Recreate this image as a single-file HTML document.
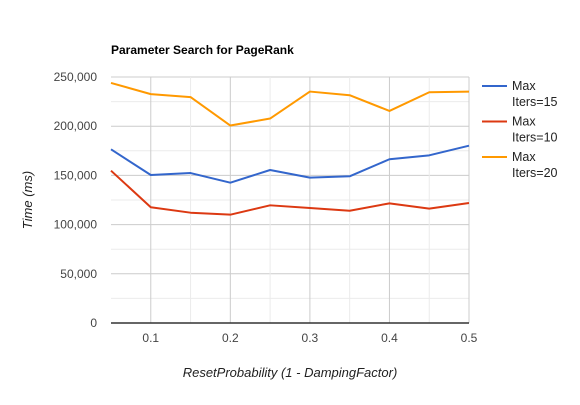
<!DOCTYPE html>
<html><head><meta charset="utf-8"><style>
body{margin:0;background:#fff}
svg text{font-family:"Liberation Sans",Arial,sans-serif}
</style></head><body>
<svg id="chart" width="580" height="400" xmlns="http://www.w3.org/2000/svg">
<rect width="580" height="400" fill="#fff"/>
<text x="111" y="54" font-size="12" font-weight="bold" fill="#000">Parameter Search for PageRank</text>
<g id="grid"></g>
<g id="ylabels"></g>
<g id="xlabels"></g>
<g id="series"></g>
<line x1="111" x2="469" y1="323" y2="323" stroke="#333" stroke-width="1.5"/>
<text transform="translate(32,200) rotate(-90)" text-anchor="middle" font-size="13" font-style="italic" fill="#222">Time (ms)</text>
<text x="290" y="377" text-anchor="middle" font-size="13" font-style="italic" fill="#222">ResetProbability (1 - DampingFactor)</text>
<g id="legend"></g>
</svg>
<script>
const xValues=[0.05,0.1,0.15,0.2,0.25,0.3,0.35,0.4,0.45,0.5];
const iters15=[176500,150400,152400,142600,155500,147700,149100,166400,170400,180200];
const iters10=[154800,117600,112100,110100,119600,116900,114100,121600,116200,122000];
const iters20=[244000,232600,229600,200700,207800,235200,231500,215500,234500,235200];
const yTicks=[0,50000,100000,150000,200000,250000];
const yTickLabels=["0","50,000","100,000","150,000","200,000","250,000"];
const xTicks=[0.1,0.2,0.3,0.4,0.5];
const xTickLabels=["0.1","0.2","0.3","0.4","0.5"];
const seriesNames=["Max Iters=15","Max Iters=10","Max Iters=20"];
const NS="http://www.w3.org/2000/svg";
const X0=111,X1=469,Y0=323,Y1=77;
const xs=v=>X0+(v-0.05)/(0.5-0.05)*(X1-X0);
const ys=v=>Y0-v/250000*(Y0-Y1);
function mk(tag,attrs,parent){const e=document.createElementNS(NS,tag);for(const k in attrs)e.setAttribute(k,attrs[k]);parent.appendChild(e);return e;}
const grid=document.getElementById('grid');
for(let v=0;v<=250000;v+=25000){
  const major=v%50000===0;
  const l=mk('line',{x1:X0,x2:X1,y1:ys(v),y2:ys(v),stroke:major?'#ccc':'#ebebeb','stroke-width':1},grid);
  
  
}
for(let i=1;i<=9;i++){
  const v=0.05+i*0.05;const major=i%2===1;
  const l=mk('line',{x1:xs(v),x2:xs(v),y1:Y1,y2:Y0,stroke:major?'#ccc':'#ebebeb','stroke-width':1},grid);
  
  
}
const yl=document.getElementById('ylabels');
yTicks.forEach((v,i)=>{const t=mk('text',{x:97,y:ys(v)+4,'text-anchor':'end','font-size':12,fill:'#444'},yl);t.textContent=yTickLabels[i];
  
  });
const xl=document.getElementById('xlabels');
xTicks.forEach((v,i)=>{const t=mk('text',{x:xs(v),y:342,'text-anchor':'middle','font-size':12,fill:'#444'},xl);t.textContent=xTickLabels[i];
  
  });
const sg=document.getElementById('series');
const data=[iters15,iters10,iters20];const colors=['#3366cc','#dc3912','#ff9900'];const ids=['line-iters-15','line-iters-10','line-iters-20'];
data.forEach((arr,si)=>{
  const p=mk('polyline',{points:arr.map((v,i)=>xs(xValues[i])+','+ys(v)).join(' '),fill:'none',stroke:colors[si],'stroke-width':2,'stroke-linejoin':'round'},sg);
  
  
});
const lg=document.getElementById('legend');
seriesNames.forEach((n,i)=>{
  const y0=86+i*35.5;
  const g=mk('g',{},lg);
  
  
  mk('line',{x1:482,x2:507,y1:y0,y2:y0,stroke:colors[i],'stroke-width':2},g);
  const parts=n.split(' ');
  const t1=mk('text',{x:512,y:y0+4,'font-size':12.5,fill:'#222'},g);t1.textContent=parts[0];
  const t2=mk('text',{x:512,y:y0+20,'font-size':12.5,fill:'#222'},g);t2.textContent=parts[1];
});
</script>
</body></html>
